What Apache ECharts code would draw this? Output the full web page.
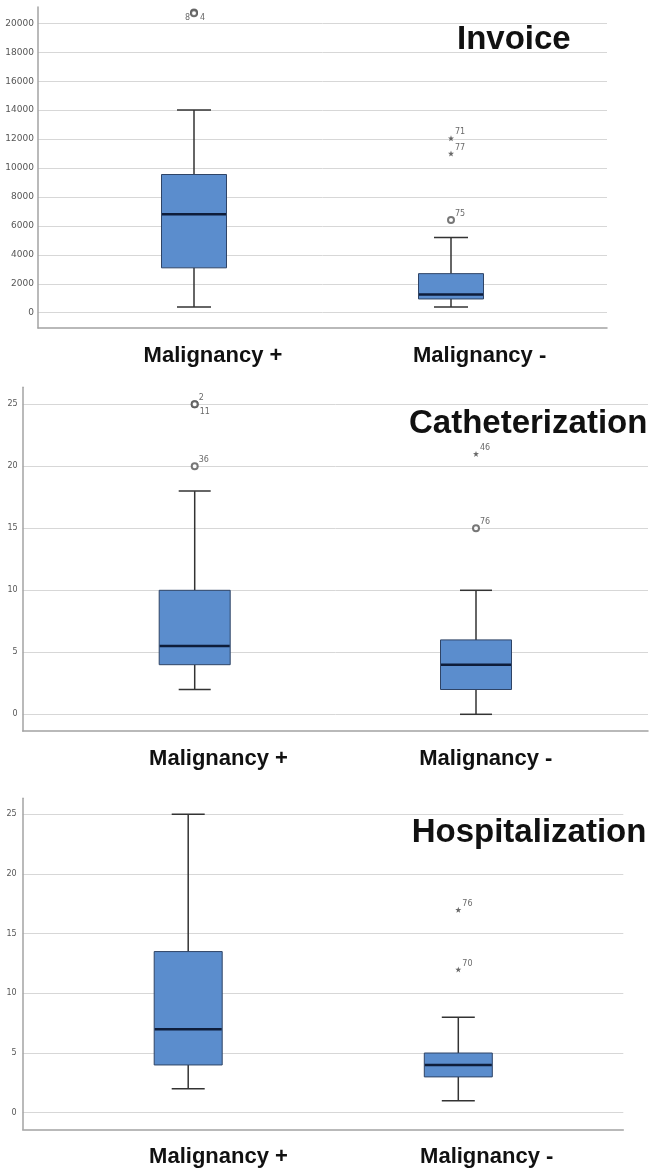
<!DOCTYPE html>
<html>
<head>
<meta charset="utf-8">
<script src="https://cdn.jsdelivr.net/npm/echarts@6/dist/echarts.min.js"></script>
<style>
  html, body { margin: 0; padding: 0; background: #ffffff; }
  #chart { width: 652px; height: 1169px; }
</style>
</head>
<body>
<div id="chart"></div>
<script>
// ---- data ----
const categories = ['Malignancy +', 'Malignancy -'];
const panelTitles = ['Invoice', 'Catheterization', 'Hospitalization'];

// five-number summaries per group: [min, Q1, median, Q3, max]
const invoiceTicks = [0, 2000, 4000, 6000, 8000, 10000, 12000, 14000, 16000, 18000, 20000];
const invoiceBoxes = [[400, 3100, 6800, 9550, 14000], [400, 950, 1250, 2700, 5200]];
// outliers: [group index, value, case number]
const invoiceOutliers = [[0, 20750, '8'], [0, 20700, '4'], [1, 6400, '75']];
const invoiceExtremes = [[1, 12050, '71'], [1, 11000, '77']];

const cathTicks = [0, 5, 10, 15, 20, 25];
const cathBoxes = [[2, 4, 5.5, 10, 18], [0, 2, 4, 6, 10]];
const cathOutliers = [[0, 25, '2'], [0, 25, '11'], [0, 20, '36'], [1, 15, '76']];
const cathExtremes = [[1, 21, '46']];

const hospTicks = [0, 5, 10, 15, 20, 25];
const hospBoxes = [[2, 4, 7, 13.5, 25], [1, 3, 4, 5, 8]];
const hospOutliers = [];
const hospExtremes = [[1, 17, '76'], [1, 12, '70']];

const panelData = [
  { ticks: invoiceTicks, boxes: invoiceBoxes, outliers: invoiceOutliers, extremes: invoiceExtremes },
  { ticks: cathTicks, boxes: cathBoxes, outliers: cathOutliers, extremes: cathExtremes },
  { ticks: hospTicks, boxes: hospBoxes, outliers: hospOutliers, extremes: hospExtremes }
];

// ---- layout (pixels) ----
const layouts = [
  { axisLeft: 38, axisRight: 607, axisTop: 7, axisBottom: 328, tickTopY: 23.3, tickZeroY: 312.7,
    boxCenters: [194, 451], boxWidth: 65, capWidth: 34, labelCenters: [213, 479.6],
    tickFont: 9, tickMargin: 4, titleX: 457, titleY: 40 },
  { axisLeft: 22.7, axisRight: 648, axisTop: 387.3, axisBottom: 731, tickTopY: 404.3, tickZeroY: 714.3,
    boxCenters: [194.7, 476], boxWidth: 71, capWidth: 32, labelCenters: [218.5, 485.8],
    tickFont: 8, tickMargin: 5, titleX: 409, titleY: 424 },
  { axisLeft: 22.7, axisRight: 623.3, axisTop: 798.3, axisBottom: 1129.3, tickTopY: 814.3, tickZeroY: 1112.7,
    boxCenters: [188.2, 458.3], boxWidth: 68, capWidth: 33, labelCenters: [218.5, 486.7],
    tickFont: 8, tickMargin: 6, titleX: 411.7, titleY: 832.5 }
];

// placement of case-number labels next to their markers
const defaultPlacement = { align: 'left', dx: 4, dy: -6 };
const casePlacement = {
  '8': { align: 'right', dx: -4, dy: 5 },
  '4': { align: 'left', dx: 6, dy: 5 },
  '11': { align: 'left', dx: 5, dy: 8 }
};

const BOX_FILL = '#5b8dcd';
const BOX_STROKE = '#2f4466';
const MEDIAN_STROKE = '#0e1d3a';
const WHISKER_STROKE = '#333333';
const GRID_LINE = '#d7d7d7';
const AXIS_LINE = '#a3a3a3';
const STAR_PATH = 'path://M5,0 L6.2,3.6 L10,3.8 L7,6.1 L8.1,10 L5,7.7 L1.9,10 L3,6.1 L0,3.8 L3.8,3.6 Z';

const grid = [], xAxis = [], yAxis = [], series = [], graphic = [];

function caseLabel(id) {
  const p = casePlacement[id] || defaultPlacement;
  return {
    show: true, position: 'inside', align: p.align, verticalAlign: 'middle',
    offset: [p.dx, p.dy], formatter: id,
    fontSize: 8, color: '#444', fontFamily: 'DejaVu Sans, sans-serif'
  };
}

layouts.forEach((L, pi) => {
  const D = panelData[pi];
  const ticks = D.ticks;
  const tickMin = ticks[0], tickMax = ticks[ticks.length - 1], step = ticks[1] - ticks[0];
  const fullWidth = L.axisRight - L.axisLeft;

  // value range of the full frame, derived from the tick spacing
  const vpp = (tickMax - tickMin) / (L.tickZeroY - L.tickTopY);
  const frameMin = tickMin - (L.axisBottom - L.tickZeroY) * vpp;
  const frameMax = tickMax + (L.tickTopY - L.axisTop) * vpp;

  // grid 1: frame with left and bottom axis lines
  const gFrame = grid.length;
  grid.push({ left: L.axisLeft, top: L.axisTop, width: fullWidth, height: L.axisBottom - L.axisTop, outerBoundsMode: 'none' });
  xAxis.push({ gridIndex: gFrame, type: 'value', min: 0, max: 1,
    axisLine: { show: true, onZero: false, lineStyle: { color: AXIS_LINE, width: 1.5 } },
    axisTick: { show: false }, axisLabel: { show: false }, splitLine: { show: false } });
  yAxis.push({ gridIndex: gFrame, type: 'value', min: frameMin, max: frameMax,
    axisLine: { show: true, lineStyle: { color: AXIS_LINE, width: 1.5 } },
    axisTick: { show: false }, axisLabel: { show: false }, splitLine: { show: false } });

  // grid 2: tick labels and horizontal grid lines
  const gTick = grid.length;
  grid.push({ left: L.axisLeft, top: L.tickTopY, width: fullWidth, height: L.tickZeroY - L.tickTopY, outerBoundsMode: 'none' });
  xAxis.push({ gridIndex: gTick, type: 'value', min: 0, max: 1, show: false });
  yAxis.push({ gridIndex: gTick, type: 'value', min: tickMin, max: tickMax, interval: step,
    axisLine: { show: false }, axisTick: { show: false },
    axisLabel: { fontSize: L.tickFont, color: '#555', fontFamily: 'DejaVu Sans, sans-serif',
      margin: L.tickMargin, formatter: v => String(v) },
    splitLine: { show: true, lineStyle: { color: GRID_LINE, width: 1 } } });

  // grid 3: boxes, outliers and group labels
  const gBox = grid.length;
  const bandSpan = 2 * (L.boxCenters[1] - L.boxCenters[0]);
  const rich = {};
  categories.forEach((c, ci) => {
    const shift = L.labelCenters[ci] - L.boxCenters[ci];
    rich['c' + ci] = {
      fontSize: 22, fontWeight: 'bold', color: '#111',
      fontFamily: '"Liberation Sans", Arial, sans-serif',
      padding: shift >= 0 ? [0, 0, 0, 2 * shift] : [0, -2 * shift, 0, 0]
    };
  });
  grid.push({ left: L.boxCenters[0] - bandSpan / 4, top: L.axisTop, width: bandSpan,
    height: L.axisBottom - L.axisTop, outerBoundsMode: 'none' });
  xAxis.push({ gridIndex: gBox, type: 'category', data: categories,
    axisLine: { show: false }, axisTick: { show: false }, splitLine: { show: false },
    axisLabel: { interval: 0, margin: 17, formatter: (v, i) => '{c' + i + '|' + v + '}', rich: rich } });
  yAxis.push({ gridIndex: gBox, type: 'value', min: frameMin, max: frameMax, show: false });

  const boxW = L.boxWidth, capW = L.capWidth;
  series.push({
    type: 'custom', xAxisIndex: gBox, yAxisIndex: gBox, z: 3,
    data: D.boxes.map((b, i) => [i].concat(b)),
    encode: { x: 0, y: [1, 2, 3, 4, 5] },
    renderItem: function (params, api) {
      const x = api.value(0);
      const lo = api.coord([x, api.value(1)]);
      const q1 = api.coord([x, api.value(2)]);
      const md = api.coord([x, api.value(3)]);
      const q3 = api.coord([x, api.value(4)]);
      const hi = api.coord([x, api.value(5)]);
      const cx = lo[0];
      const ws = { stroke: WHISKER_STROKE, lineWidth: 1.5 };
      return {
        type: 'group',
        children: [
          { type: 'line', shape: { x1: cx, y1: lo[1], x2: cx, y2: q1[1] }, style: ws },
          { type: 'line', shape: { x1: cx, y1: q3[1], x2: cx, y2: hi[1] }, style: ws },
          { type: 'line', shape: { x1: cx - capW / 2, y1: lo[1], x2: cx + capW / 2, y2: lo[1] }, style: ws },
          { type: 'line', shape: { x1: cx - capW / 2, y1: hi[1], x2: cx + capW / 2, y2: hi[1] }, style: ws },
          { type: 'rect', shape: { x: cx - boxW / 2, y: q3[1], width: boxW, height: q1[1] - q3[1] },
            style: { fill: BOX_FILL, stroke: BOX_STROKE, lineWidth: 1 } },
          { type: 'line', shape: { x1: cx - boxW / 2 + 0.5, y1: md[1], x2: cx + boxW / 2 - 0.5, y2: md[1] },
            style: { stroke: MEDIAN_STROKE, lineWidth: 2.5 } }
        ]
      };
    }
  });

  if (D.outliers.length) {
    series.push({
      type: 'scatter', xAxisIndex: gBox, yAxisIndex: gBox, z: 4,
      symbol: 'emptyCircle', symbolSize: 6,
      itemStyle: { color: '#555', borderColor: '#555', borderWidth: 1 },
      data: D.outliers.map(o => ({ value: [o[0], o[1]], label: caseLabel(o[2]) }))
    });
  }
  if (D.extremes.length) {
    series.push({
      type: 'scatter', xAxisIndex: gBox, yAxisIndex: gBox, z: 4,
      symbol: STAR_PATH, symbolSize: 6,
      itemStyle: { color: '#444' },
      data: D.extremes.map(o => ({ value: [o[0], o[1]], label: caseLabel(o[2]) }))
    });
  }

  graphic.push({
    type: 'text', x: L.titleX, y: L.titleY, z: 10,
    style: { text: panelTitles[pi], fontSize: 33, fontWeight: 'bold',
      fontFamily: '"Liberation Sans", Arial, sans-serif', fill: '#111',
      align: 'left', verticalAlign: 'middle' }
  });
});

const chart = echarts.init(document.getElementById('chart'), null, { renderer: 'canvas' });
chart.setOption({
  animation: false,
  backgroundColor: '#ffffff',
  grid: grid,
  xAxis: xAxis,
  yAxis: yAxis,
  series: series,
  graphic: graphic
});
</script>
</body>
</html>
